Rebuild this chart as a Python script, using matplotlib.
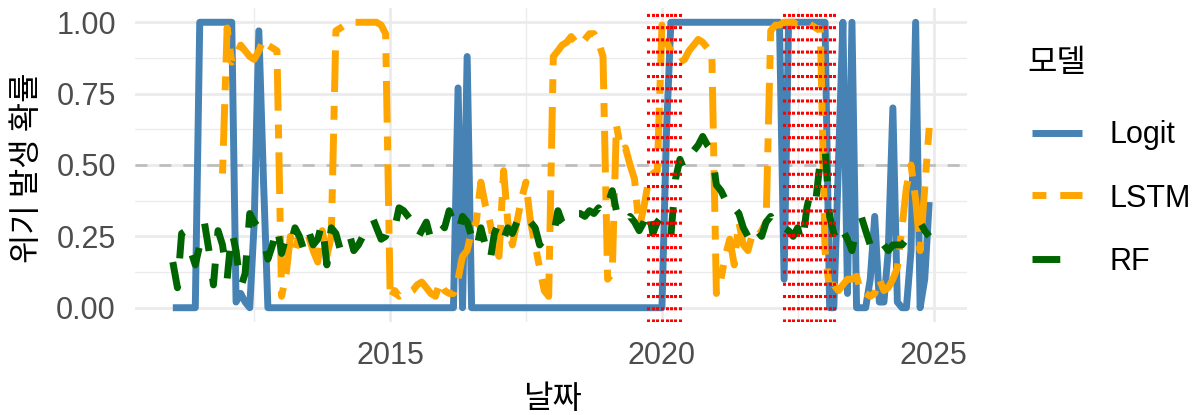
import matplotlib
matplotlib.use("Agg")
import matplotlib.pyplot as plt
import matplotlib.dates as mdates
from matplotlib.lines import Line2D
from matplotlib.ticker import FixedLocator
import numpy as np
import pandas as pd

plt.rcParams['font.family'] = ['Liberation Sans', 'Noto Sans CJK KR', 'DejaVu Sans']

# ---------------- data (monthly, 2011-01 .. 2024-12) ----------------
dates = pd.date_range('2011-01-01', periods=168, freq='MS')

logit = [
    0, 0, 0, 0, 0, 0, 1, 1, 1, 1, 1, 1,                              # 2011
    1, 1, 0.02, 0.05, 0.02, 0.0, 0.3, 0.97, 0.45, 0, 0, 0,           # 2012
    0, 0, 0, 0, 0, 0, 0, 0, 0, 0, 0, 0,                              # 2013
    0, 0, 0, 0, 0, 0, 0, 0, 0, 0, 0, 0,                              # 2014
    0, 0, 0, 0, 0, 0, 0, 0, 0, 0, 0, 0,                              # 2015
    0, 0, 0, 0.77, 0.0, 0.88, 0, 0, 0, 0, 0, 0,                      # 2016
    0, 0, 0, 0, 0, 0, 0, 0, 0, 0, 0, 0,                              # 2017
    0, 0, 0, 0, 0, 0, 0, 0, 0, 0, 0, 0,                              # 2018
    0, 0, 0, 0, 0, 0, 0, 0, 0, 0, 0, 0,                              # 2019
    0, 0.62, 1, 1, 1, 1, 1, 1, 1, 1, 1, 1,                           # 2020
    1, 1, 1, 1, 1, 1, 1, 1, 1, 1, 1, 1,                              # 2021
    1, 1, 1, 0.1, 1, 1, 1, 1, 1, 1, 1, 1,                            # 2022
    1, 0.0, 0.0, 0.5, 1.0, 0.05, 1.0, 0.0, 0.0, 0.0, 0.1, 0.32,      # 2023
    0.02, 0.02, 0.2, 0.70, 0.02, 0.0, 0.0, 0.2, 1.0, 0.0, 0.1, 0.37, # 2024
]

lstm = [
    np.nan, np.nan, np.nan, np.nan, np.nan, np.nan,
    np.nan, np.nan, np.nan, np.nan, np.nan, 0.47,                    # 2011
    0.98, 0.86, 0.88, 0.92, 0.90, 0.88, 0.87, 0.90, 0.94, 0.92, 0.91, 0.90,  # 2012
    0.04, 0.12, 0.25, 0.20, 0.26, 0.24, 0.25, 0.20, 0.16, 0.27, 0.18, 0.25,  # 2013
    0.97, 0.98, 0.99, 0.99, 1.00, 1.00, 1.00, 1.00, 1.00, 1.00, 0.99, 0.96,  # 2014
    0.03, 0.06, 0.04, 0.05, 0.05, 0.06, 0.08, 0.09, 0.07, 0.05, 0.04, 0.09,  # 2015
    0.06, 0.05, 0.05, 0.10, 0.18, 0.20, 0.27, 0.30, 0.44, 0.36, 0.30, 0.22,  # 2016
    0.18, 0.48, 0.30, 0.22, 0.30, 0.38, 0.44, 0.30, 0.22, 0.14, 0.06, 0.04,  # 2017
    0.88, 0.90, 0.92, 0.93, 0.95, 0.93, 0.92, 0.94, 0.96, 0.96, 0.93, 0.88,  # 2018
    0.10, 0.12, 0.64, 0.55, 0.56, 0.50, 0.45, 0.28, 0.35, 0.44, 0.47, 0.48,  # 2019
    0.99, 0.93, 0.90, 0.88, 0.86, 0.87, 0.90, 0.92, 0.94, 0.93, 0.91, 0.90,  # 2020
    0.05, 0.10, 0.18, 0.24, 0.15, 0.30, 0.22, 0.20, 0.26, 0.25, 0.27, 0.30,  # 2021
    0.97, 0.99, 0.99, 1.00, 1.00, 1.00, 0.99, 0.99, 1.00, 0.99, 0.98, 0.97,  # 2022
    0.20, 0.06, 0.08, 0.06, 0.08, 0.10, 0.10, 0.11, 0.05, 0.05, 0.04, 0.05,  # 2023
    0.10, 0.06, 0.07, 0.10, 0.14, 0.28, 0.42, 0.50, 0.38, 0.20, 0.42, 0.63,  # 2024
]

rf = [
    0.16, 0.07, 0.26, 0.27, 0.20, 0.15, 0.22, 0.30, 0.20, 0.08, 0.27, 0.22,  # 2011
    0.10, 0.27, 0.20, 0.07, 0.12, 0.33, 0.30, 0.28, 0.24, 0.17, 0.22, 0.29,  # 2012
    0.19, 0.25, 0.22, 0.28, 0.25, 0.20, 0.27, 0.22, 0.24, 0.30, 0.15, 0.28,  # 2013
    0.26, 0.20, 0.24, 0.26, 0.20, 0.22, 0.25, 0.30, 0.32, 0.28, 0.24, 0.25,  # 2014
    0.30, 0.28, 0.35, 0.34, 0.32, 0.30, 0.24, 0.27, 0.30, 0.24, 0.27, 0.30,  # 2015
    0.28, 0.34, 0.30, 0.26, 0.32, 0.30, 0.25, 0.20, 0.28, 0.22, 0.16, 0.26,  # 2016
    0.30, 0.24, 0.28, 0.26, 0.30, 0.34, 0.32, 0.30, 0.28, 0.22, 0.24, 0.26,  # 2017
    0.25, 0.34, 0.30, 0.28, 0.32, 0.33, 0.33, 0.32, 0.34, 0.33, 0.35, 0.32,  # 2018
    0.36, 0.41, 0.34, 0.30, 0.29, 0.32, 0.30, 0.27, 0.30, 0.35, 0.26, 0.30,  # 2019
    0.32, 0.28, 0.25, 0.45, 0.52, 0.48, 0.50, 0.55, 0.57, 0.60, 0.57, 0.55,  # 2020
    0.43, 0.41, 0.38, 0.40, 0.35, 0.33, 0.28, 0.25, 0.30, 0.27, 0.25, 0.30,  # 2021
    0.32, 0.28, 0.30, 0.28, 0.27, 0.25, 0.28, 0.22, 0.35, 0.42, 0.38, 0.52,  # 2022
    0.56, 0.32, 0.26, 0.22, 0.27, 0.24, 0.20, 0.28, 0.32, 0.27, 0.22, 0.20,  # 2023
    0.24, 0.22, 0.20, 0.22, 0.22, 0.22, 0.24, 0.26, 0.28, 0.30, 0.27, 0.25,  # 2024
]

crisis_periods = [('2019-10-01', '2020-05-01'), ('2022-04-01', '2023-03-01')]
threshold = 0.5

series_names = ['Logit', 'LSTM', 'RF']
series_colors = ['#4682B4', '#FFA500', '#006400']
y_ticks = [0.0, 0.25, 0.5, 0.75, 1.0]
x_tick_years = [2015, 2020, 2025]

# ---------------- figure ----------------
W, H = 1199, 415
fig = plt.figure(figsize=(W / 100, H / 100), dpi=100)
ax = fig.add_axes([135 / W, 1 - 322 / H, 832 / W, 314 / H])

LW = 5.0
styles = {
    'Logit': dict(color=series_colors[0], lw=LW, solid_capstyle='butt', solid_joinstyle='round'),
    'LSTM': dict(color=series_colors[1], lw=LW, dashes=(2, 2, 6, 2), dash_capstyle='butt', dash_joinstyle='round'),
    'RF': dict(color=series_colors[2], lw=LW, dashes=(4, 4), dash_capstyle='butt', dash_joinstyle='round'),
}

ax.axhline(threshold, color='#BEBEBE', lw=2.0, dashes=(4.3, 4.3), zorder=2)

for z, (name, vals) in enumerate(zip(series_names, [logit, lstm, rf])):
    ax.plot(dates, vals, zorder=3 + z, **styles[name])

for start, end in crisis_periods:
    for d in pd.date_range(start, end, freq='MS'):
        ax.axvline(d, color='red', lw=2.2, dashes=(1, 3), dash_capstyle='butt', zorder=8)

# limits like ggplot (5% expansion)
span = dates[-1] - dates[0]
ax.set_xlim(dates[0] - 0.05 * span, dates[-1] + 0.05 * span)
ax.set_ylim(-0.05, 1.05)

# ticks and grid
maj_x = [pd.Timestamp(f'{y}-01-01') for y in x_tick_years]
min_x = [pd.Timestamp('2010-01-01') + (pd.Timestamp('2015-01-01') - pd.Timestamp('2010-01-01')) / 2]
for a, b in zip(maj_x[:-1], maj_x[1:]):
    min_x.append(a + (b - a) / 2)
ax.set_xticks(maj_x)
ax.set_xticklabels([str(y) for y in x_tick_years])
ax.xaxis.set_minor_locator(FixedLocator([mdates.date2num(d) for d in min_x]))
ax.set_yticks(y_ticks)
ax.set_yticklabels([f'{v:.2f}' for v in y_ticks])
ax.yaxis.set_minor_locator(FixedLocator([0.125, 0.375, 0.625, 0.875]))

ax.grid(which='major', color='#EBEBEB', lw=2.0, zorder=0)
ax.grid(which='minor', color='#EBEBEB', lw=1.0, zorder=0)
ax.set_axisbelow(True)
for s in ax.spines.values():
    s.set_visible(False)
ax.tick_params(which='both', length=0)
ax.tick_params(axis='both', labelsize=22, labelcolor='#4D4D4D')
ax.tick_params(axis='y', pad=13.7)
ax.tick_params(axis='x', pad=14)

KR = ['Noto Sans CJK KR', 'DejaVu Sans']
fig.text(552 / W, 1 - 399 / H, '날짜', fontsize=23, family=KR, ha='center', va='center')
fig.text(27 / W, 1 - 168 / H, '위기 발생 확률', fontsize=23, family=KR, ha='center', va='center', rotation=90)

# legend
fig.text(1027 / W, 1 - 63 / H, '모델', fontsize=23, family=KR, ha='left', va='center')
key_y = [133, 195.5, 259]
base_y = [143, 207, 270]
for name, ky, by in zip(series_names, key_y, base_y):
    fig.add_artist(Line2D([1032 / W, 1082 / W], [1 - ky / H, 1 - ky / H],
                          transform=fig.transFigure, **styles[name]))
    fig.text(1110 / W, 1 - by / H, name, fontsize=22, ha='left', va='baseline', color='black')

fig.savefig('out.png', dpi=100, facecolor='white')
